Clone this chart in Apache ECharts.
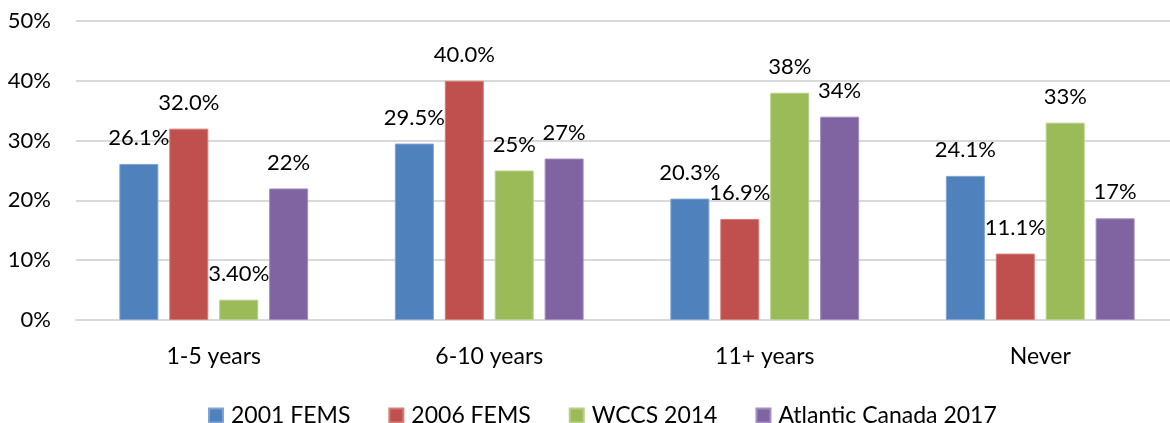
<!DOCTYPE html>
<html>
<head>
<meta charset="utf-8">
<script src="https://cdn.jsdelivr.net/npm/echarts@6/dist/echarts.min.js"></script>
<style>
  html, body { margin: 0; padding: 0; background: #fff; overflow: hidden; }
  /* the plot area runs slightly past the right edge of the page */
  #chart { width: 1178px; height: 423px; }
</style>
</head>
<body>
<div id="chart"></div>
<script>
// Years of experience categories
const categories = ['1-5 years', '6-10 years', '11+ years', 'Never'];

// Survey results, percent
const fems2001 = [26.1, 29.5, 20.3, 24.1];
const fems2006 = [32.0, 40.0, 16.9, 11.1];
const wccs2014 = [3.4, 25, 38, 33];
const atlantic2017 = [22, 27, 34, 17];

// Decimal places shown on each bar's value label
const fems2001Decimals = [1, 1, 1, 1];
const fems2006Decimals = [1, 1, 1, 1];
const wccs2014Decimals = [2, 0, 0, 0];
const atlantic2017Decimals = [0, 0, 0, 0];

const seriesNames = ['2001 FEMS', '2006 FEMS', 'WCCS 2014', 'Atlantic Canada 2017'];
const yTicks = [0, 10, 20, 30, 40, 50];

const FONT = 'Lato, "Liberation Sans", sans-serif';
const colors = ['#4F81BD', '#C0504D', '#9BBB59', '#8064A2'];
const borders = ['#7FA3D2', '#D47C79', '#B7D08A', '#A28CC0'];

function makeSeries(idx, values, decimals) {
  return {
    name: seriesNames[idx],
    type: 'bar',
    data: values,
    barWidth: 39,
    barGap: '28%',
    itemStyle: { color: colors[idx], borderColor: borders[idx], borderWidth: 1 },
    label: {
      show: true,
      position: 'top',
      distance: 15,
      fontFamily: FONT,
      fontSize: 22,
      color: '#000',
      formatter: p => values[p.dataIndex].toFixed(decimals[p.dataIndex]) + '%'
    }
  };
}

const chart = echarts.init(document.getElementById('chart'), null, { renderer: 'canvas' });
chart.setOption({
  animation: false,
  backgroundColor: '#fff',
  grid: { left: 76, top: 21, bottom: 103, right: 0, containLabel: false },
  legend: {
    data: seriesNames,
    top: 399,
    left: 203,
    icon: 'rect',
    itemWidth: 14,
    itemHeight: 14,
    itemGap: 38,
    textStyle: { fontFamily: FONT, fontSize: 23, color: '#000', padding: [0, 0, 0, 3] }
  },
  xAxis: {
    type: 'category',
    data: categories,
    axisTick: { show: false },
    axisLine: { show: true, lineStyle: { color: '#D9D9D9', width: 2 } },
    axisLabel: { fontFamily: FONT, fontSize: 23, color: '#000', margin: 25 }
  },
  yAxis: {
    type: 'value',
    min: yTicks[0],
    max: yTicks[yTicks.length - 1],
    interval: 10,
    axisLine: { show: false },
    axisTick: { show: false },
    splitLine: { lineStyle: { color: '#D9D9D9', width: 2 } },
    axisLabel: { fontFamily: FONT, fontSize: 22, color: '#000', margin: 25, formatter: v => v + '%' }
  },
  series: [
    makeSeries(0, fems2001, fems2001Decimals),
    makeSeries(1, fems2006, fems2006Decimals),
    makeSeries(2, wccs2014, wccs2014Decimals),
    makeSeries(3, atlantic2017, atlantic2017Decimals)
  ]
});
</script>
</body>
</html>
